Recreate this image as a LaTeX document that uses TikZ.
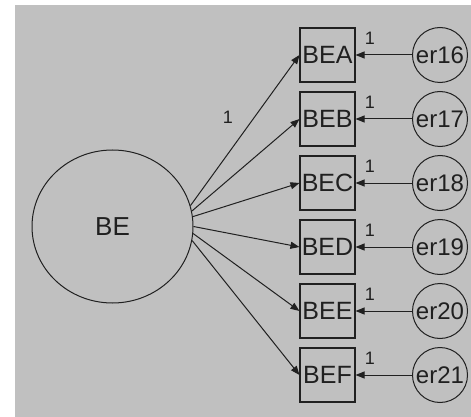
\documentclass[tikz,border=0pt]{standalone}
\usepackage{fontspec}
\setmainfont{Liberation Sans}
\usetikzlibrary{positioning, arrows.meta, shapes.geometric}
\definecolor{panelgray}{HTML}{C0C0C0}
\definecolor{inkgray}{HTML}{202020}

\begin{document}
\begin{tikzpicture}[
      x=1pt, y=-1pt,
      every node/.style={text=inkgray},
      latent/.style={draw=inkgray, line width=1pt, ellipse, minimum width=161pt, minimum height=153pt,
        inner sep=0pt, font=\fontsize{26}{26}\selectfont},
      observed/.style={draw=inkgray, line width=1.1pt, minimum width=55pt, minimum height=54pt,
        inner sep=0pt, font=\fontsize{25}{25}\selectfont},
      errterm/.style={draw=inkgray, line width=1pt, circle, minimum size=55pt, inner sep=0pt,
        font=\fontsize{24}{24}\selectfont},
      weight/.style={font=\fontsize{18}{18}\selectfont, inner sep=0pt},
      path/.style={draw=inkgray, line width=1pt, -{Triangle[length=9pt, width=7pt]}},
    ]
    \useasboundingbox (0,0) rectangle (471,417);
    \fill[panelgray] (15,5) rectangle (471,417);

    % factor
    \node[latent] (be) at (112.5, 226.5) {BE};

    % indicators
    \node[observed] (bea) at (327.5, 55) {BEA};
    \node[observed] (beb) at (327.5, 119) {BEB};
    \node[observed] (bec) at (327.5, 183) {BEC};
    \node[observed] (bed) at (327.5, 247) {BED};
    \node[observed] (bee) at (327.5, 311) {BEE};
    \node[observed] (bef) at (327.5, 375) {BEF};

    % error terms
    \node[errterm] (er16) at (440, 55) {er16};
    \node[errterm] (er17) at (440, 119) {er17};
    \node[errterm] (er18) at (440, 183) {er18};
    \node[errterm] (er19) at (440, 247) {er19};
    \node[errterm] (er20) at (440, 311) {er20};
    \node[errterm] (er21) at (440, 375) {er21};

    % loadings
    \draw[path] (be.15) -- (bea.west);
    \draw[path] (be.11) -- (beb.west);
    \draw[path] (be.7) -- (bec.west);
    \draw[path] (be.0) -- (bed.west);
    \draw[path] (be.-5) -- (bee.west);
    \draw[path] (be.-10) -- (bef.west);
    \node[weight] (wbea) at (228, 117) {1};

    % residual paths
    \draw[path] (er16.west) -- (bea.east);
    \draw[path] (er17.west) -- (beb.east);
    \draw[path] (er18.west) -- (bec.east);
    \draw[path] (er19.west) -- (bed.east);
    \draw[path] (er20.west) -- (bee.east);
    \draw[path] (er21.west) -- (bef.east);
    \node[weight] (w16) at (370, 38) {1};
    \node[weight] (w17) at (370, 102) {1};
    \node[weight] (w18) at (370, 166) {1};
    \node[weight] (w19) at (370, 230) {1};
    \node[weight] (w20) at (370, 294) {1};
    \node[weight] (w21) at (370, 358) {1};
  \end{tikzpicture}
\end{document}
